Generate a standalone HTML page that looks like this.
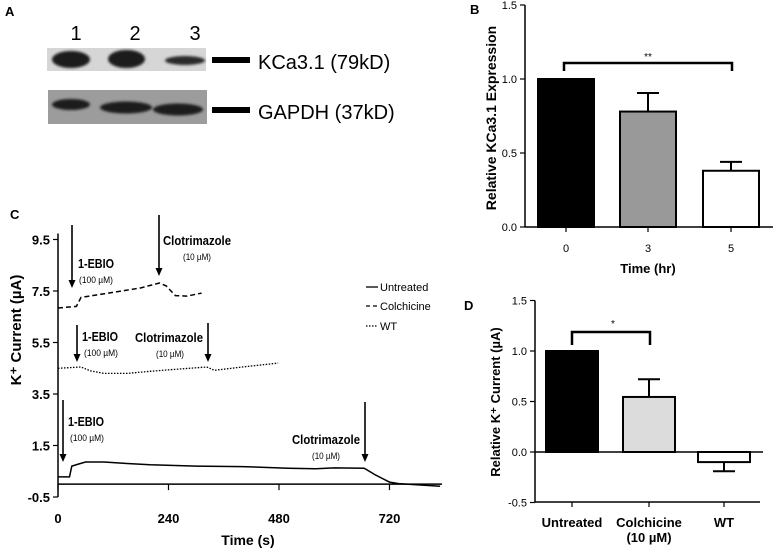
<!DOCTYPE html>
<html><head><meta charset="utf-8"><style>
html,body{margin:0;padding:0;background:#fff;}
svg{display:block;font-family:"Liberation Sans",sans-serif;}
</style></head><body>
<svg id="fig" width="776" height="552" viewBox="0 0 776 552" xmlns="http://www.w3.org/2000/svg">
<defs><filter id="blur" x="-20%" y="-50%" width="140%" height="200%"><feGaussianBlur stdDeviation="1.2"/></filter></defs>
<!-- Panel A -->
<g>
<text x="5" y="16" font-size="13" font-weight="bold">A</text>
<text x="76" y="40" font-size="20" text-anchor="middle">1</text>
<text x="135" y="40" font-size="20" text-anchor="middle">2</text>
<text x="195" y="40" font-size="20" text-anchor="middle">3</text>
<rect x="47" y="48" width="159" height="23" fill="#d6d6d6"/>
<g filter="url(#blur)">
<ellipse cx="71" cy="59.5" rx="19" ry="8.5" fill="#1c1c1c"/>
<ellipse cx="126.5" cy="59" rx="18.5" ry="9" fill="#1c1c1c"/>
<ellipse cx="185" cy="60.5" rx="20" ry="4.5" fill="#2a2a2a"/>
</g>
<rect x="48" y="90" width="159" height="34" fill="#9c9c9c"/>
<g filter="url(#blur)">
<ellipse cx="71" cy="104.5" rx="19" ry="5.5" fill="#1a1a1a"/>
<ellipse cx="126" cy="107.5" rx="26" ry="6" fill="#1a1a1a"/>
<ellipse cx="178" cy="109.5" rx="25" ry="6" fill="#1a1a1a"/>
</g>
<rect x="212" y="57" width="38" height="6" fill="#000"/>
<rect x="212" y="107" width="38" height="6" fill="#000"/>
<text x="258" y="69" font-size="20">KCa3.1 (79kD)</text>
<text x="258" y="119" font-size="20">GAPDH (37kD)</text>
</g>
<text x="470" y="14" font-size="13" font-weight="bold">B</text>
<text x="10" y="219" font-size="13" font-weight="bold">C</text>
<text x="464" y="310" font-size="13" font-weight="bold">D</text>
<g id="pb"></g>
<g id="pc"></g>
<g id="pd"></g>
</svg>
<script>
// Panel B data
const bCats = ["0","3","5"];
const bVals = [1.0, 0.78, 0.38];
const bErr = [0, 0.125, 0.06];
const bFills = ["#000","#999","#fff"];
const bTicks = [0.0, 0.5, 1.0, 1.5];
// Panel D data
const dCats = ["Untreated","Colchicine","WT"];
const dVals = [1.0, 0.545, -0.1];
const dErr = [0, 0.175, -0.09];
const dFills = ["#000","#dcdcdc","#fff"];
const dTicks = [-0.5, 0.0, 0.5, 1.0, 1.5];
// Panel C data
const cYTicks = [-0.5, 1.5, 3.5, 5.5, 7.5, 9.5];
const cXTicks = [0, 240, 480, 720];
const untT = [0,25,30,45,60,100,150,200,300,400,500,560,600,665,690,720,740,830];
const untV = [0.28,0.28,0.7,0.78,0.86,0.86,0.8,0.75,0.7,0.68,0.62,0.6,0.63,0.62,0.35,0.08,0.02,-0.08];
const colT = [0,40,50,120,180,220,235,255,280,312];
const colV = [6.84,6.9,7.25,7.45,7.62,7.81,7.7,7.32,7.3,7.42];
const wtT = [0,50,70,100,150,200,250,323,340,400,478];
const wtV = [4.5,4.55,4.4,4.3,4.3,4.38,4.45,4.55,4.42,4.55,4.7];

const NS="http://www.w3.org/2000/svg";
function mk(parent, tag, attrs, text){
  const e=document.createElementNS(NS,tag);
  for(const k in attrs) e.setAttribute(k,attrs[k]);
  if(text!==undefined) e.textContent=text;
  parent.appendChild(e);
  return e;
}
// ---------- Panel B ----------
(function(){
  const g=document.getElementById('pb');
  const y=v=>227-v*148;
  const cx=[566,648,731];
  let ax=mk(g,'line',{x1:525,y1:y(1.5),x2:525,y2:y(0),stroke:'#000','stroke-width':1.5});
   
  let xa=mk(g,'line',{x1:525,y1:227,x2:773,y2:227,stroke:'#000','stroke-width':1.5});
   
  bTicks.forEach(t=>{
    mk(g,'line',{x1:520,y1:y(t),x2:525,y2:y(t),stroke:'#000','stroke-width':1.2});
    const l=mk(g,'text',{x:517,y:y(t)+4,'font-size':11,'text-anchor':'end'},t.toFixed(1));
     
  });
  bCats.forEach((c,i)=>{
    mk(g,'line',{x1:cx[i],y1:227,x2:cx[i],y2:232,stroke:'#000','stroke-width':1.2});
    const l=mk(g,'text',{x:cx[i],y:252,'font-size':11,'text-anchor':'middle'},c);
     
    if(bErr[i]){
      const e=mk(g,'path',{d:`M${cx[i]} ${y(bVals[i])} V${y(bVals[i]+bErr[i])} M${cx[i]-11} ${y(bVals[i]+bErr[i])} H${cx[i]+11}`,stroke:'#000','stroke-width':2,fill:'none'});
       
    }
    const r=mk(g,'rect',{x:cx[i]-28,y:y(bVals[i]),width:56,height:227-y(bVals[i]),fill:bFills[i],stroke:'#000','stroke-width':2});
     
  });
  const br=mk(g,'path',{d:'M564 71 V63 H732 V71',stroke:'#000','stroke-width':2.5,fill:'none'});
   
  const st=mk(g,'text',{x:648,y:60,'font-size':10,'text-anchor':'middle'},'**');
   
  const xt=mk(g,'text',{x:648,y:273,'font-size':13,'font-weight':'bold','text-anchor':'middle'},'Time (hr)');
   
  const yt=mk(g,'text',{x:0,y:0,'font-size':14,'font-weight':'bold','text-anchor':'middle',transform:'translate(496,118) rotate(-90)'},'Relative  KCa3.1 Expression');
   
})();
// ---------- Panel D ----------
(function(){
  const g=document.getElementById('pd');
  const y=v=>452-v*101;
  const cx=[572,649,724];
  let ax=mk(g,'line',{x1:535,y1:y(1.5),x2:535,y2:y(-0.5),stroke:'#000','stroke-width':1.5});
   
  let zl=mk(g,'line',{x1:535,y1:452,x2:763,y2:452,stroke:'#000','stroke-width':1.5});
   
  let xa=mk(g,'line',{x1:535,y1:502,x2:760,y2:502,stroke:'#000','stroke-width':1.5});
   
  dTicks.forEach(t=>{
    mk(g,'line',{x1:530,y1:y(t),x2:535,y2:y(t),stroke:'#000','stroke-width':1.2});
    const l=mk(g,'text',{x:527,y:y(t)+4,'font-size':11,'text-anchor':'end'},t.toFixed(1));
     
  });
  dCats.forEach((c,i)=>{
    mk(g,'line',{x1:cx[i],y1:502,x2:cx[i],y2:507,stroke:'#000','stroke-width':1.2});
    const l=mk(g,'text',{x:cx[i],y:527,'font-size':13,'font-weight':'bold','text-anchor':'middle'},c);
     
    if(dErr[i]){
      const e=mk(g,'path',{d:`M${cx[i]} ${y(dVals[i])} V${y(dVals[i]+dErr[i])} M${cx[i]-11} ${y(dVals[i]+dErr[i])} H${cx[i]+11}`,stroke:'#000','stroke-width':2,fill:'none'});
       
    }
    const top=Math.min(y(dVals[i]),452), h=Math.abs(452-y(dVals[i]));
    const r=mk(g,'rect',{x:cx[i]-26,y:top,width:52,height:h,fill:dFills[i],stroke:'#000','stroke-width':2});
     
  });
  const sub=mk(g,'text',{x:649,y:542,'font-size':13,'font-weight':'bold','text-anchor':'middle'},'(10 µM)');
   
  const br=mk(g,'path',{d:'M572 345 V332 H650 V345',stroke:'#000','stroke-width':2.5,fill:'none'});
   
  const st=mk(g,'text',{x:613,y:327,'font-size':10,'text-anchor':'middle'},'*');
   
  const yt=mk(g,'text',{x:0,y:0,'font-size':13,'font-weight':'bold','text-anchor':'middle',transform:'translate(500,402) rotate(-90)'},'Relative K⁺ Current (µA)');
   
})();
// ---------- Panel C ----------
(function(){
  const g=document.getElementById('pc');
  const y=v=>497-(v+0.5)*25.75;
  const x=t=>58+t*0.4604;
  let ax=mk(g,'line',{x1:58,y1:y(9.5)-6,x2:58,y2:y(-0.5),stroke:'#000','stroke-width':1.5});
   
  let xa=mk(g,'line',{x1:58,y1:y(0),x2:442,y2:y(0),stroke:'#000','stroke-width':1.5});
   
  cYTicks.forEach(t=>{
    mk(g,'line',{x1:53,y1:y(t),x2:58,y2:y(t),stroke:'#000','stroke-width':1.2});
    const l=mk(g,'text',{x:50,y:y(t)+5,'font-size':13,'font-weight':'bold','text-anchor':'end'},t.toFixed(1));
     
  });
  cXTicks.forEach(t=>{
    mk(g,'line',{x1:x(t),y1:y(0),x2:x(t),y2:y(0)+6,stroke:'#000','stroke-width':1.2});
    const l=mk(g,'text',{x:x(t),y:523,'font-size':13,'font-weight':'bold','text-anchor':'middle'},String(t));
     
  });
  const pts=(T,V)=>T.map((t,i)=>x(t).toFixed(1)+','+y(V[i]).toFixed(1)).join(' ');
  let l1=mk(g,'polyline',{points:pts(untT,untV),fill:'none',stroke:'#000','stroke-width':1.5});
   
  let l2=mk(g,'polyline',{points:pts(colT,colV),fill:'none',stroke:'#000','stroke-width':1.5,'stroke-dasharray':'5,3'});
   
  let l3=mk(g,'polyline',{points:pts(wtT,wtV),fill:'none',stroke:'#000','stroke-width':1.3,'stroke-dasharray':'1.5,1.5'});
   
  function arrow(ax,y1,y2,name){
    const a=mk(g,'path',{d:`M${ax} ${y1} V${y2-6}`,stroke:'#000','stroke-width':1.6});
     
    mk(g,'path',{d:`M${ax-3.5} ${y2-8} L${ax+3.5} ${y2-8} L${ax} ${y2} Z`,fill:'#000'});
  }
  function lab(tx,ty,anchor,text,sub,sx,name){
    const len = text==='1-EBIO' ? 36 : 68;
    const t=mk(g,'text',{x:tx,y:ty,'font-size':13,'font-weight':'bold','text-anchor':anchor,textLength:len,lengthAdjust:'spacingAndGlyphs'},text);
     
    const s=mk(g,'text',{x:sx,y:ty+15,'font-size':9.5,'text-anchor':'middle',textLength:(sub.length>7?34:28),lengthAdjust:'spacingAndGlyphs'},sub);
     
  }
  arrow(72,225,288,'colchicine-ebio-arrow');
  lab(78,268,'start','1-EBIO','(100 µM)',96,'colchicine-ebio-label');
  arrow(159,215,276,'colchicine-clotrimazole-arrow');
  lab(163,245,'start','Clotrimazole','(10 µM)',197,'colchicine-clotrimazole-label');
  arrow(77,325,362,'wt-ebio-arrow');
  lab(82,341,'start','1-EBIO','(100 µM)',101,'wt-ebio-label');
  arrow(208,323,362,'wt-clotrimazole-arrow');
  lab(203,342,'end','Clotrimazole','(10 µM)',170,'wt-clotrimazole-label');
  arrow(63,400,462,'untreated-ebio-arrow');
  lab(68,426,'start','1-EBIO','(100 µM)',87,'untreated-ebio-label');
  arrow(365,402,462,'untreated-clotrimazole-arrow');
  lab(360,444,'end','Clotrimazole','(10 µM)',326,'untreated-clotrimazole-label');
  // legend
  const leg=[['Untreated','none',287],['Colchicine','4,3',306],['WT','1.5,1.5',326]];
  leg.forEach(L=>{
    const ln=mk(g,'line',{x1:366,y1:L[2],x2:378,y2:L[2],stroke:'#000','stroke-width':1.3,'stroke-dasharray':L[1]});
     
    const t=mk(g,'text',{x:380,y:L[2]+4,'font-size':11},L[0]);
     
  });
  const xt=mk(g,'text',{x:248,y:545,'font-size':14,'font-weight':'bold','text-anchor':'middle'},'Time (s)');
   
  const yt=mk(g,'text',{x:0,y:0,'font-size':15,'font-weight':'bold','text-anchor':'middle',transform:'translate(21,330) rotate(-90)'},'K⁺ Current (µA)');
   
})();
</script>
</body></html>
